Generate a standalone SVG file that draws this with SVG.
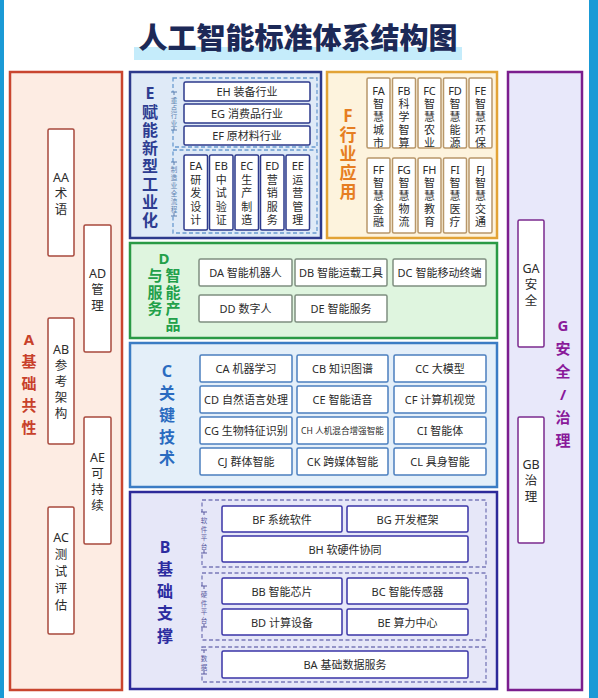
<svg xmlns="http://www.w3.org/2000/svg" width="598" height="698" viewBox="0 0 598 698">
<style>
text{font-family:"Noto Sans","Noto Sans CJK SC",sans-serif;text-anchor:middle;dominant-baseline:central;fill:#2b2b2b}
.panel{stroke-width:2.5}
.box{fill:#fff;stroke-width:1.5}
.t11{font-size:11px}
.t12{font-size:11px}
.t13{font-size:12.5px}
.lbl{font-weight:bold}
.sm{font-size:6.5px}
.dash{fill:none;stroke-width:1.3;stroke-dasharray:4 2.5}
.tick{fill:none;stroke-width:1}
</style>
<rect width="598" height="698" fill="#fff"/>
<rect x="0" y="0" width="4" height="698" fill="#1a9ad6"/>
<rect x="589" y="0" width="9" height="698" fill="#1a9ad6"/>
<g id="title">
<rect x="134" y="47" width="328" height="13" fill="#c5ecfb"/>
<text x="298" y="36" style="font-family:'Noto Sans CJK SC',sans-serif;font-size:29px;font-weight:900;fill:#1c2957">人工智能标准体系结构图</text>
</g>

<g id="A">
<rect class="panel" x="10" y="72" width="112" height="618" fill="#fdece3" stroke="#c9452f"/>
<text class="lbl" style="font-size:15px;fill:#c8402a"><tspan x="29" y="339">A</tspan><tspan x="29" y="361">基</tspan><tspan x="29" y="383">础</tspan><tspan x="29" y="405">共</tspan><tspan x="29" y="427">性</tspan></text>
<g id="AA"><rect class="box" x="48" y="129" width="26" height="127" rx="1.5" stroke="#a8483c"/><text class="t13"><tspan x="61" y="176.5">AA</tspan><tspan x="61" y="192.5">术</tspan><tspan x="61" y="208.5">语</tspan></text></g>
<g id="AD"><rect class="box" x="84" y="225" width="27" height="127" rx="1.5" stroke="#a8483c"/><text class="t13"><tspan x="97.5" y="272.5">AD</tspan><tspan x="97.5" y="288.5">管</tspan><tspan x="97.5" y="304.5">理</tspan></text></g>
<g id="AB"><rect class="box" x="48" y="318" width="26" height="126" rx="1.5" stroke="#a8483c"/><text class="t13"><tspan x="61" y="349">AB</tspan><tspan x="61" y="365">参</tspan><tspan x="61" y="381">考</tspan><tspan x="61" y="397">架</tspan><tspan x="61" y="413">构</tspan></text></g>
<g id="AE"><rect class="box" x="84" y="417" width="27" height="127" rx="1.5" stroke="#a8483c"/><text class="t13"><tspan x="97.5" y="456.5">AE</tspan><tspan x="97.5" y="472.5">可</tspan><tspan x="97.5" y="488.5">持</tspan><tspan x="97.5" y="504.5">续</tspan></text></g>
<g id="AC"><rect class="box" x="48" y="507" width="26" height="127" rx="1.5" stroke="#a8483c"/><text class="t13"><tspan x="61" y="536.5">AC</tspan><tspan x="61" y="553.5">测</tspan><tspan x="61" y="570.5">试</tspan><tspan x="61" y="587.5">评</tspan><tspan x="61" y="604.5">估</tspan></text></g>
</g>

<g id="E">
<rect class="panel" x="130" y="72" width="191" height="166" fill="#dfeaf7" stroke="#2d3a8c"/>
<text class="lbl" style="font-size:16px;fill:#2d3d91"><tspan x="150" y="93">E</tspan><tspan x="150" y="112">赋</tspan><tspan x="150" y="130">能</tspan><tspan x="150" y="148">新</tspan><tspan x="150" y="166">型</tspan><tspan x="150" y="184">工</tspan><tspan x="150" y="202">业</tspan><tspan x="150" y="220">化</tspan></text>
<rect class="dash" x="173" y="78" width="144" height="69" stroke="#6a9ad0"/>
<rect class="dash" x="173" y="150" width="144" height="83" stroke="#6a9ad0"/>
<rect x="170" y="92" width="8" height="38" fill="#dfeaf7"/>
<rect x="170" y="162" width="8" height="54" fill="#dfeaf7"/>
<path class="tick" stroke="#5a7fb0" d="M171 92h6M174 92v3M171 130h6M174 130v-3M171 162h6M174 162v3M171 216h6M174 216v-3"/>
<text class="sm" style="fill:#5a7fb0"><tspan x="174" y="100">重</tspan><tspan x="174" y="107.5">点</tspan><tspan x="174" y="115">行</tspan><tspan x="174" y="122.5">业</tspan></text>
<text class="sm" style="fill:#5a7fb0"><tspan x="174" y="169">制</tspan><tspan x="174" y="177">造</tspan><tspan x="174" y="185">业</tspan><tspan x="174" y="193">全</tspan><tspan x="174" y="201">流</tspan><tspan x="174" y="209">程</tspan></text>
<g id="EH"><rect class="box" x="184" y="82" width="126" height="19" rx="1.5" stroke="#2d3a8c"/><text class="t11" x="247" y="91.5">EH 装备行业</text></g>
<g id="EG"><rect class="box" x="184" y="104" width="126" height="19" rx="1.5" stroke="#2d3a8c"/><text class="t11" x="247" y="113.5">EG 消费品行业</text></g>
<g id="EF"><rect class="box" x="184" y="126" width="126" height="19" rx="1.5" stroke="#2d3a8c"/><text class="t11" x="247" y="135.5">EF 原材料行业</text></g>
<g id="EA"><rect class="box" x="184" y="155" width="23.5" height="75" rx="1.5" stroke="#2d3a8c"/><text class="t12"><tspan x="195.75" y="165">EA</tspan><tspan x="195.75" y="178.5">研</tspan><tspan x="195.75" y="192">发</tspan><tspan x="195.75" y="205.5">设</tspan><tspan x="195.75" y="219">计</tspan></text></g>
<g id="EB"><rect class="box" x="209.5" y="155" width="23.5" height="75" rx="1.5" stroke="#2d3a8c"/><text class="t12"><tspan x="221.25" y="165">EB</tspan><tspan x="221.25" y="178.5">中</tspan><tspan x="221.25" y="192">试</tspan><tspan x="221.25" y="205.5">验</tspan><tspan x="221.25" y="219">证</tspan></text></g>
<g id="EC"><rect class="box" x="235" y="155" width="23.5" height="75" rx="1.5" stroke="#2d3a8c"/><text class="t12"><tspan x="246.75" y="165">EC</tspan><tspan x="246.75" y="178.5">生</tspan><tspan x="246.75" y="192">产</tspan><tspan x="246.75" y="205.5">制</tspan><tspan x="246.75" y="219">造</tspan></text></g>
<g id="ED"><rect class="box" x="260.5" y="155" width="23.5" height="75" rx="1.5" stroke="#2d3a8c"/><text class="t12"><tspan x="272.25" y="165">ED</tspan><tspan x="272.25" y="178.5">营</tspan><tspan x="272.25" y="192">销</tspan><tspan x="272.25" y="205.5">服</tspan><tspan x="272.25" y="219">务</tspan></text></g>
<g id="EE"><rect class="box" x="286" y="155" width="23.5" height="75" rx="1.5" stroke="#2d3a8c"/><text class="t12"><tspan x="297.75" y="165">EE</tspan><tspan x="297.75" y="178.5">运</tspan><tspan x="297.75" y="192">营</tspan><tspan x="297.75" y="205.5">管</tspan><tspan x="297.75" y="219">理</tspan></text></g>
</g>

<g id="F">
<rect class="panel" x="327" y="72" width="170" height="166" fill="#fdf3dd" stroke="#e2a336"/>
<text class="lbl" style="font-size:17px;fill:#e67e22"><tspan x="348" y="115">F</tspan><tspan x="348" y="134">行</tspan><tspan x="348" y="153">业</tspan><tspan x="348" y="172">应</tspan><tspan x="348" y="191">用</tspan></text>
<g id="FA"><rect class="box" x="367" y="78" width="23" height="70" rx="1.5" stroke="#b8976a"/><text class="t12"><tspan x="378.5" y="90">FA</tspan><tspan x="378.5" y="103">智</tspan><tspan x="378.5" y="116">慧</tspan><tspan x="378.5" y="129">城</tspan><tspan x="378.5" y="142">市</tspan></text></g>
<g id="FB"><rect class="box" x="392.5" y="78" width="23" height="70" rx="1.5" stroke="#b8976a"/><text class="t12"><tspan x="404" y="90">FB</tspan><tspan x="404" y="103">科</tspan><tspan x="404" y="116">学</tspan><tspan x="404" y="129">智</tspan><tspan x="404" y="142">算</tspan></text></g>
<g id="FC"><rect class="box" x="418" y="78" width="23" height="70" rx="1.5" stroke="#b8976a"/><text class="t12"><tspan x="429.5" y="90">FC</tspan><tspan x="429.5" y="103">智</tspan><tspan x="429.5" y="116">慧</tspan><tspan x="429.5" y="129">农</tspan><tspan x="429.5" y="142">业</tspan></text></g>
<g id="FD"><rect class="box" x="443.5" y="78" width="23" height="70" rx="1.5" stroke="#b8976a"/><text class="t12"><tspan x="455" y="90">FD</tspan><tspan x="455" y="103">智</tspan><tspan x="455" y="116">慧</tspan><tspan x="455" y="129">能</tspan><tspan x="455" y="142">源</tspan></text></g>
<g id="FE"><rect class="box" x="469" y="78" width="23" height="70" rx="1.5" stroke="#b8976a"/><text class="t12"><tspan x="480.5" y="90">FE</tspan><tspan x="480.5" y="103">智</tspan><tspan x="480.5" y="116">慧</tspan><tspan x="480.5" y="129">环</tspan><tspan x="480.5" y="142">保</tspan></text></g>
<g id="FF"><rect class="box" x="367" y="158" width="23" height="75" rx="1.5" stroke="#b8976a"/><text class="t12"><tspan x="378.5" y="169">FF</tspan><tspan x="378.5" y="182">智</tspan><tspan x="378.5" y="195">慧</tspan><tspan x="378.5" y="208">金</tspan><tspan x="378.5" y="221">融</tspan></text></g>
<g id="FG"><rect class="box" x="392.5" y="158" width="23" height="75" rx="1.5" stroke="#b8976a"/><text class="t12"><tspan x="404" y="169">FG</tspan><tspan x="404" y="182">智</tspan><tspan x="404" y="195">慧</tspan><tspan x="404" y="208">物</tspan><tspan x="404" y="221">流</tspan></text></g>
<g id="FH"><rect class="box" x="418" y="158" width="23" height="75" rx="1.5" stroke="#b8976a"/><text class="t12"><tspan x="429.5" y="169">FH</tspan><tspan x="429.5" y="182">智</tspan><tspan x="429.5" y="195">慧</tspan><tspan x="429.5" y="208">教</tspan><tspan x="429.5" y="221">育</tspan></text></g>
<g id="FI"><rect class="box" x="443.5" y="158" width="23" height="75" rx="1.5" stroke="#b8976a"/><text class="t12"><tspan x="455" y="169">FI</tspan><tspan x="455" y="182">智</tspan><tspan x="455" y="195">慧</tspan><tspan x="455" y="208">医</tspan><tspan x="455" y="221">疗</tspan></text></g>
<g id="FJ"><rect class="box" x="469" y="158" width="23" height="75" rx="1.5" stroke="#b8976a"/><text class="t12"><tspan x="480.5" y="169">FJ</tspan><tspan x="480.5" y="182">智</tspan><tspan x="480.5" y="195">慧</tspan><tspan x="480.5" y="208">交</tspan><tspan x="480.5" y="221">通</tspan></text></g>
</g>

<g id="D">
<rect class="panel" x="130" y="243" width="367" height="95" fill="#dff5df" stroke="#2a9a45"/>
<text class="lbl" style="font-size:15px;fill:#22a04a"><tspan x="164" y="258">D</tspan><tspan x="155" y="275">与</tspan><tspan x="155" y="292">服</tspan><tspan x="155" y="308">务</tspan><tspan x="173" y="275">智</tspan><tspan x="173" y="292">能</tspan><tspan x="173" y="308">产</tspan><tspan x="173" y="324">品</tspan></text>
<g id="DA"><rect class="box" x="199" y="259" width="93" height="27" rx="1.5" stroke="#7f8f80"/><text class="t11" x="245.5" y="272.5">DA 智能机器人</text></g>
<g id="DB"><rect class="box" x="295" y="259" width="92" height="27" rx="1.5" stroke="#7f8f80"/><text class="t11" x="341" y="272.5">DB 智能运载工具</text></g>
<g id="DC"><rect class="box" x="393" y="259" width="93" height="27" rx="1.5" stroke="#7f8f80"/><text class="t11" x="439.5" y="272.5">DC 智能移动终端</text></g>
<g id="DD"><rect class="box" x="199" y="295" width="93" height="27" rx="1.5" stroke="#7f8f80"/><text class="t11" x="245.5" y="308.5">DD 数字人</text></g>
<g id="DE"><rect class="box" x="295" y="295" width="92" height="27" rx="1.5" stroke="#7f8f80"/><text class="t11" x="341" y="308.5">DE 智能服务</text></g>
</g>

<g id="C">
<rect class="panel" x="130" y="343" width="367" height="144" fill="#e4eff9" stroke="#3b7cc4"/>
<text class="lbl" style="font-size:16px;fill:#2a6bc0"><tspan x="167" y="371">C</tspan><tspan x="167" y="393">关</tspan><tspan x="167" y="415">键</tspan><tspan x="167" y="437">技</tspan><tspan x="167" y="458">术</tspan></text>
<g id="CA"><rect class="box" x="200" y="355" width="92" height="27" rx="1.5" stroke="#4b7fbf"/><text class="t11" x="246" y="368.5">CA 机器学习</text></g>
<g id="CB"><rect class="box" x="297" y="355" width="91" height="27" rx="1.5" stroke="#4b7fbf"/><text class="t11" x="342.5" y="368.5">CB 知识图谱</text></g>
<g id="CC"><rect class="box" x="394" y="355" width="92" height="27" rx="1.5" stroke="#4b7fbf"/><text class="t11" x="440" y="368.5">CC 大模型</text></g>
<g id="CD"><rect class="box" x="200" y="386" width="92" height="27" rx="1.5" stroke="#4b7fbf"/><text class="t11" x="246" y="399.5">CD 自然语言处理</text></g>
<g id="CE"><rect class="box" x="297" y="386" width="91" height="27" rx="1.5" stroke="#4b7fbf"/><text class="t11" x="342.5" y="399.5">CE 智能语音</text></g>
<g id="CF"><rect class="box" x="394" y="386" width="92" height="27" rx="1.5" stroke="#4b7fbf"/><text class="t11" x="440" y="399.5">CF 计算机视觉</text></g>
<g id="CG"><rect class="box" x="200" y="417" width="92" height="27" rx="1.5" stroke="#4b7fbf"/><text class="t11" x="246" y="430.5">CG 生物特征识别</text></g>
<g id="CH"><rect class="box" x="297" y="417" width="91" height="27" rx="1.5" stroke="#4b7fbf"/><text x="342.5" y="430.5" style="font-size:8.6px">CH 人机混合增强智能</text></g>
<g id="CI"><rect class="box" x="394" y="417" width="92" height="27" rx="1.5" stroke="#4b7fbf"/><text class="t11" x="440" y="430.5">CI 智能体</text></g>
<g id="CJ"><rect class="box" x="200" y="448" width="92" height="27" rx="1.5" stroke="#4b7fbf"/><text class="t11" x="246" y="461.5">CJ 群体智能</text></g>
<g id="CK"><rect class="box" x="297" y="448" width="91" height="27" rx="1.5" stroke="#4b7fbf"/><text class="t11" x="342.5" y="461.5">CK 跨媒体智能</text></g>
<g id="CL"><rect class="box" x="394" y="448" width="92" height="27" rx="1.5" stroke="#4b7fbf"/><text class="t11" x="440" y="461.5">CL 具身智能</text></g>
</g>

<g id="B">
<rect class="panel" x="130" y="492" width="367" height="197" fill="#e6e7f8" stroke="#2d2a9a"/>
<text class="lbl" style="font-size:16px;fill:#2c2ca0"><tspan x="165" y="547">B</tspan><tspan x="165" y="569">基</tspan><tspan x="165" y="591">础</tspan><tspan x="165" y="613">支</tspan><tspan x="165" y="636">撑</tspan></text>
<rect class="dash" x="202" y="500" width="284" height="67" stroke="#7a7ab8"/>
<rect class="dash" x="202" y="573" width="284" height="67" stroke="#7a7ab8"/>
<rect class="dash" x="202" y="647" width="284" height="35" stroke="#7a7ab8"/>
<rect x="199" y="512" width="9" height="41" fill="#e6e7f8"/>
<rect x="199" y="586" width="9" height="41" fill="#e6e7f8"/>
<rect x="199" y="650" width="9" height="24" fill="#e6e7f8"/>
<path class="tick" stroke="#5a5aa0" d="M201 512h6M204 512v3M201 553h6M204 553v-3M201 586h6M204 586v3M201 627h6M204 627v-3M201 650h6M204 650v3M201 674h6M204 674v-3"/>
<text class="sm" style="fill:#5a5aa0"><tspan x="204" y="520">软</tspan><tspan x="204" y="528.5">件</tspan><tspan x="204" y="537">平</tspan><tspan x="204" y="545.5">台</tspan></text>
<text class="sm" style="fill:#5a5aa0"><tspan x="204" y="594">硬</tspan><tspan x="204" y="602.5">件</tspan><tspan x="204" y="611">平</tspan><tspan x="204" y="619.5">台</tspan></text>
<text class="sm" style="fill:#5a5aa0"><tspan x="204" y="658">数</tspan><tspan x="204" y="666.5">据</tspan></text>
<g id="BF"><rect class="box" x="222" y="506" width="120" height="26" rx="1.5" stroke="#3a35a6"/><text class="t11" x="282" y="519">BF 系统软件</text></g>
<g id="BG"><rect class="box" x="347" y="506" width="121" height="26" rx="1.5" stroke="#3a35a6"/><text class="t11" x="407.5" y="519">BG 开发框架</text></g>
<g id="BH"><rect class="box" x="222" y="536" width="246" height="26" rx="1.5" stroke="#3a35a6"/><text class="t11" x="345" y="549">BH 软硬件协同</text></g>
<g id="BB"><rect class="box" x="222" y="578" width="120" height="26" rx="1.5" stroke="#3a35a6"/><text class="t11" x="282" y="591">BB 智能芯片</text></g>
<g id="BC"><rect class="box" x="347" y="578" width="121" height="26" rx="1.5" stroke="#3a35a6"/><text class="t11" x="407.5" y="591">BC 智能传感器</text></g>
<g id="BD"><rect class="box" x="222" y="609" width="120" height="26" rx="1.5" stroke="#3a35a6"/><text class="t11" x="282" y="622">BD 计算设备</text></g>
<g id="BE"><rect class="box" x="347" y="609" width="121" height="26" rx="1.5" stroke="#3a35a6"/><text class="t11" x="407.5" y="622">BE 算力中心</text></g>
<g id="BA"><rect class="box" x="222" y="651" width="246" height="27" rx="1.5" stroke="#3a35a6"/><text class="t11" x="345" y="664.5">BA 基础数据服务</text></g>
</g>

<g id="G">
<rect class="panel" x="508" y="72" width="74" height="618" fill="#e8e8fa" stroke="#7b1e8e"/>
<text class="lbl" style="font-size:15px;fill:#8a1a9a"><tspan x="563" y="325">G</tspan><tspan x="563" y="348">安</tspan><tspan x="563" y="371">全</tspan><tspan x="563" y="394">/</tspan><tspan x="563" y="417">治</tspan><tspan x="563" y="440">理</tspan></text>
<g id="GA"><rect class="box" x="518" y="220" width="26" height="127" rx="1.5" stroke="#7b2a8e"/><text class="t13"><tspan x="531" y="267.5">GA</tspan><tspan x="531" y="283.5">安</tspan><tspan x="531" y="299.5">全</tspan></text></g>
<g id="GB"><rect class="box" x="518" y="417" width="26" height="126" rx="1.5" stroke="#7b2a8e"/><text class="t13"><tspan x="531" y="464">GB</tspan><tspan x="531" y="480">治</tspan><tspan x="531" y="496">理</tspan></text></g>
</g>
<g id="connectors"/>
</svg>
